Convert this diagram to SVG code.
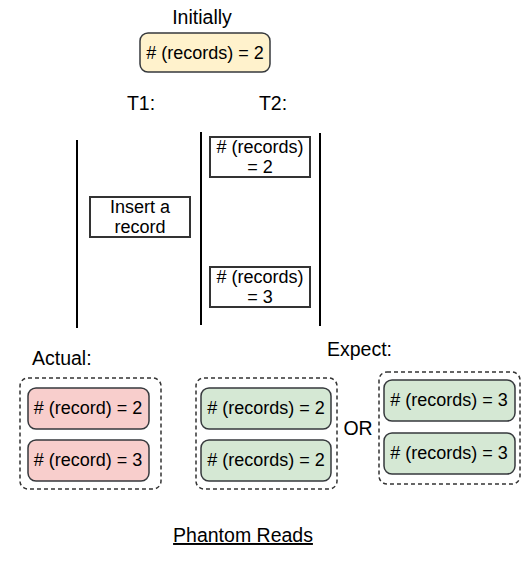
<svg xmlns="http://www.w3.org/2000/svg" width="531" height="566" viewBox="0 0 531 566">
<style>
text{font-family:"Liberation Sans",Arial,sans-serif;fill:#000}
.lbl{font-size:19.5px}
.t{font-size:18px;text-anchor:middle}
.r{stroke:#36393d;stroke-width:1.5}
.yel{fill:#fff2cc}
.red{fill:#f8cecc}
.grn{fill:#d5e8d4}
.plain{fill:#fff;stroke:#333;stroke-width:2}
.grp{fill:none;stroke:#333;stroke-width:1.5;stroke-dasharray:4 3}
.life{stroke:#000;stroke-width:2}
</style>
<rect width="531" height="566" fill="#fff"/>
<g id="title-initially">
<text class="lbl" x="202" y="24" text-anchor="middle">Initially</text>
</g>
<g id="initial-box">
<rect class="r yel" x="140" y="33" width="130" height="39" rx="8"/>
<text class="t" x="205" y="59">&#35; (records) = 2</text>
</g>
<g id="label-t1"><text class="lbl" x="141" y="110" text-anchor="middle">T1:</text></g>
<g id="label-t2"><text class="lbl" x="273" y="110" text-anchor="middle">T2:</text></g>
<g id="lifelines">
<line class="life" x1="77" y1="140" x2="77" y2="328"/>
<line class="life" x1="201" y1="132" x2="201" y2="325"/>
<line class="life" x1="320" y1="133" x2="320" y2="326"/>
</g>
<g id="insert-box">
<rect class="plain" x="90" y="197" width="100" height="40"/>
<text class="t" x="140" y="213">Insert a</text>
<text class="t" x="140" y="233">record</text>
</g>
<g id="t2-read1">
<rect class="plain" x="210" y="137" width="100" height="40"/>
<text class="t" x="260" y="153">&#35; (records)</text>
<text class="t" x="260" y="173">= 2</text>
</g>
<g id="t2-read2">
<rect class="plain" x="210" y="267" width="100" height="40"/>
<text class="t" x="260" y="283">&#35; (records)</text>
<text class="t" x="260" y="303">= 3</text>
</g>
<g id="label-actual"><text class="lbl" x="32" y="365">Actual:</text></g>
<g id="label-expect"><text class="lbl" x="327" y="356">Expect:</text></g>
<g id="actual-group">
<rect class="grp" x="20" y="378" width="141" height="111" rx="8"/>
<rect class="r red" x="28" y="388" width="121" height="41" rx="8"/>
<text class="t" x="88" y="414">&#35; (record) = 2</text>
<rect class="r red" x="28" y="440" width="121" height="41" rx="8"/>
<text class="t" x="88" y="466">&#35; (record) = 3</text>
</g>
<g id="expect-group-1">
<rect class="grp" x="196" y="378" width="141" height="111" rx="8"/>
<rect class="r grn" x="201" y="388" width="130" height="41" rx="8"/>
<text class="t" x="266" y="414">&#35; (records) = 2</text>
<rect class="r grn" x="201" y="440" width="130" height="41" rx="8"/>
<text class="t" x="266" y="466">&#35; (records) = 2</text>
</g>
<g id="label-or"><text class="lbl" x="358" y="435" text-anchor="middle">OR</text></g>
<g id="expect-group-2">
<rect class="grp" x="379" y="372" width="141" height="112" rx="8"/>
<rect class="r grn" x="384" y="380" width="131" height="41" rx="8"/>
<text class="t" x="449" y="406">&#35; (records) = 3</text>
<rect class="r grn" x="384" y="433" width="131" height="41" rx="8"/>
<text class="t" x="449" y="459">&#35; (records) = 3</text>
</g>
<g id="caption">
<text class="lbl" x="243" y="542" text-anchor="middle" text-decoration="underline">Phantom Reads</text>
</g>
</svg>
